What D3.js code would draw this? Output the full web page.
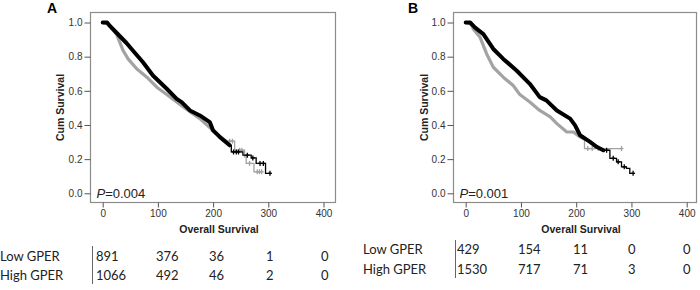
<!DOCTYPE html>
<html>
<head>
<meta charset="utf-8">
<script src="https://cdn.jsdelivr.net/npm/d3@7"></script>
<style>
  html, body { margin: 0; padding: 0; background: #fff; }
  svg { display: block; }
</style>
</head>
<body>
<svg id="chart" width="700" height="290"></svg>
<script>
// ---------- DATA ----------
const panelLabels = ["A", "B"];
const pValues = ["0.004", "0.001"];
const xTicks = [0, 100, 200, 300, 400];
const yTicks = [0.0, 0.2, 0.4, 0.6, 0.8, 1.0];
const groupNames = ["Low GPER", "High GPER"];

// Panel A – Low GPER (grey)
const aLowDense = [[0,1],[10,0.99],[25,0.932],[37,0.835],[46,0.787],[62,0.728],[80,0.68],[98,0.621],[116,0.578],[146,0.505],[176,0.437],[206,0.35],[224,0.305]];
const aLowTail = [[224,0.305],[239,0.252],[257,0.213],[260,0.175],[274,0.126],[290,0.126]];
const aLowCensor = [230, 235, 248, 252, 266, 280, 284, 288];
// Panel A – High GPER (black)
const aHighDense = [[0,1],[8,1.0],[13,0.98],[25,0.94],[43,0.88],[55,0.835],[73,0.767],[91,0.69],[116,0.612],[134,0.553],[143,0.534],[158,0.485],[176,0.456],[194,0.417],[200,0.368],[212,0.33],[230,0.281]];
const aHighTail = [[230,0.281],[233,0.242],[254,0.223],[269,0.207],[278,0.175],[295,0.117],[303,0.117]];
const aHighCensor = [237, 242, 246, 262, 272, 285, 291, 303];

// Panel B – Low GPER (grey)
const bLowDense = [[0,1],[10,0.99],[14,0.961],[26,0.913],[38,0.816],[50,0.738],[68,0.68],[86,0.631],[98,0.578],[116,0.534],[134,0.485],[153,0.447],[165,0.408],[183,0.359],[195,0.359],[207,0.33],[213,0.32]];
const bLowTail = [[213,0.32],[215,0.262],[282,0.262]];
const bLowCensor = [221, 229, 240, 282];
// Panel B – High GPER (black)
const bHighDense = [[0,1],[8,1.0],[17,0.97],[32,0.932],[50,0.845],[68,0.787],[92,0.719],[116,0.641],[134,0.563],[146,0.544],[165,0.485],[189,0.437],[198,0.398],[207,0.34],[225,0.301],[237,0.272],[249,0.252]];
const bHighTail = [[249,0.252],[261,0.205],[273,0.184],[282,0.155],[291,0.146],[297,0.117],[303,0.117]];
const bHighCensor = [255, 267, 276, 287, 303];

// Numbers at risk
const aRiskLow = [891, 376, 36, 1, 0];
const aRiskHigh = [1066, 492, 46, 2, 0];
const bRiskLow = [429, 154, 11, 0, 0];
const bRiskHigh = [1530, 717, 71, 3, 0];

// ---------- LAYOUT ----------
const svg = d3.select("#chart");
const panels = [
  { label: panelLabels[0], p: pValues[0],
    frame: {x0: 90.5, x1: 335.5, y0: 12.5, y1: 202.5},
    xr: [102.7, 323.5], yr: [193.3, 22.5],
    labelX: 47, ylabX: 64,
    low: {dense: aLowDense, tail: aLowTail, censor: aLowCensor},
    high: {dense: aHighDense, tail: aHighTail, censor: aHighCensor},
    risk: [aRiskLow, aRiskHigh],
    riskNameX: 0, riskLineX: 92, riskRowY: [256, 275], riskLineY: [246, 284],
    riskColX: [96, 156, 209, 266, 321]
  },
  { label: panelLabels[1], p: pValues[1],
    frame: {x0: 453.5, x1: 696.5, y0: 12.5, y1: 202.5},
    xr: [465.7, 686.7], yr: [193.3, 22.5],
    labelX: 408, ylabX: 428,
    low: {dense: bLowDense, tail: bLowTail, censor: bLowCensor},
    high: {dense: bHighDense, tail: bHighTail, censor: bHighCensor},
    risk: [bRiskLow, bRiskHigh],
    riskNameX: 363, riskLineX: 455, riskRowY: [249, 269], riskLineY: [240, 278],
    riskColX: [457, 518, 573, 628, 683]
  }
];

const axisColor = "#8c8c8c";
const greyCol = "#a3a3a3";
const blackCol = "#000";

panels.forEach(P => {
  const g = svg.append("g");
  const x = d3.scaleLinear().domain([0, 400]).range(P.xr);
  const y = d3.scaleLinear().domain([0, 1]).range(P.yr);

  // frame
  g.append("rect")
    .attr("x", P.frame.x0).attr("y", P.frame.y0)
    .attr("width", P.frame.x1 - P.frame.x0).attr("height", P.frame.y1 - P.frame.y0)
    .attr("fill", "none").attr("stroke", axisColor).attr("stroke-width", 1.2);

  // y axis
  const yAxis = d3.axisLeft(y).tickValues(yTicks).tickFormat(d3.format(".1f")).tickSize(6).tickPadding(2);
  const ya = g.append("g").attr("transform", `translate(${P.frame.x0},0)`).call(yAxis);
  ya.select(".domain").remove();
  ya.selectAll("line").attr("stroke", "#555");
  ya.selectAll("text").attr("fill", "#333").style("font", "10px 'Liberation Sans', Arial, sans-serif");

  // x axis
  const xAxis = d3.axisBottom(x).tickValues(xTicks).tickSize(5).tickPadding(2);
  const xa = g.append("g").attr("transform", `translate(0,${P.frame.y1})`).call(xAxis);
  xa.select(".domain").remove();
  xa.selectAll("line").attr("stroke", "#555");
  xa.selectAll("text").attr("fill", "#333").style("font", "10px 'Liberation Sans', Arial, sans-serif");

  // axis titles
  g.append("text").attr("x", (P.frame.x0 + P.frame.x1) / 2 + 6).attr("y", 233)
    .attr("text-anchor", "middle").attr("fill", "#222")
    .style("font", "bold 10.5px 'Liberation Sans', Arial, sans-serif")
    .text("Overall Survival");
  g.append("text")
    .attr("transform", `translate(${P.ylabX},${(P.frame.y0 + P.frame.y1) / 2}) rotate(-90)`)
    .attr("text-anchor", "middle").attr("fill", "#222")
    .style("font", "bold 10.5px 'Liberation Sans', Arial, sans-serif")
    .text("Cum Survival");

  // panel label
  g.append("text").attr("x", P.labelX).attr("y", 13)
    .attr("fill", "#000").style("font", "bold 14px 'Liberation Sans', Arial, sans-serif")
    .text(P.label);

  // P value
  const pt = g.append("text").attr("x", P.frame.x0 + 6).attr("y", 198)
    .attr("fill", "#222").style("font", "13px 'Liberation Sans', Arial, sans-serif");
  pt.append("tspan").style("font-style", "italic").text("P");
  pt.append("tspan").text("=" + P.p);

  const lineLin = d3.line().x(d => x(d[0])).y(d => y(d[1]));
  const lineStep = d3.line().x(d => x(d[0])).y(d => y(d[1])).curve(d3.curveStepAfter);

  function valueAt(tail, t) {
    let v = tail[0][1];
    tail.forEach(d => { if (d[0] <= t) v = d[1]; });
    return v;
  }

  function drawSeries(S, col, thick) {
    g.append("path").datum(S.tail).attr("d", lineStep)
      .attr("fill", "none").attr("stroke", col).attr("stroke-width", 1.3);
    g.append("path").datum(S.dense).attr("d", lineLin)
      .attr("fill", "none").attr("stroke", col).attr("stroke-width", thick)
      .attr("stroke-linejoin", "round").attr("stroke-linecap", "round");
    S.censor.forEach(t => {
      const cx = x(t), cy = y(valueAt(S.tail, t));
      g.append("line").attr("x1", cx).attr("x2", cx).attr("y1", cy - 2.5).attr("y2", cy + 2.5)
        .attr("stroke", col).attr("stroke-width", 1.3);
      g.append("line").attr("x1", cx - 2).attr("x2", cx + 2).attr("y1", cy).attr("y2", cy)
        .attr("stroke", col).attr("stroke-width", 1.3);
    });
  }
  drawSeries(P.low, greyCol, 3.2);
  drawSeries(P.high, blackCol, 4);

  // risk table
  g.append("line").attr("x1", P.riskLineX + 0.5).attr("x2", P.riskLineX + 0.5)
    .attr("y1", P.riskLineY[0]).attr("y2", P.riskLineY[1])
    .attr("stroke", "#666").attr("stroke-width", 1);
  P.risk.forEach((row, i) => {
    g.append("text").attr("x", P.riskNameX).attr("y", P.riskRowY[i])
      .attr("dominant-baseline", "central").attr("fill", "#222")
      .style("font", "13px Lato, 'Open Sans', sans-serif")
      .text(groupNames[i]);
    row.forEach((v, j) => {
      g.append("text").attr("x", P.riskColX[j]).attr("y", P.riskRowY[i])
        .attr("dominant-baseline", "central").attr("fill", "#222")
        .style("font", "13px Lato, 'Open Sans', sans-serif")
        .text(v);
    });
  });
});
</script>
</body>
</html>
